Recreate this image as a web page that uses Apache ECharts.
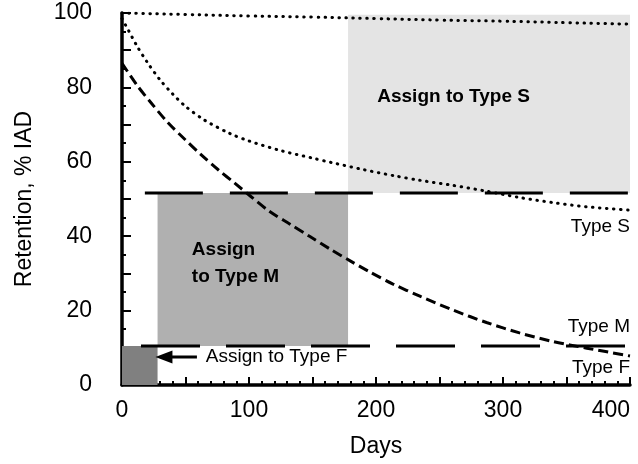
<!DOCTYPE html>
<html lang="en">
<head>
  <meta charset="UTF-8">
  <title>Retention</title>
  <script src="https://cdn.jsdelivr.net/npm/echarts@6/dist/echarts.min.js"></script>
  <style>
    * { margin: 0; padding: 0; }
    #main { width: 638px; height: 464px; background: #fff; }
  </style>
</head>
<body>
  <div id="main"></div>
  <script>
    // upper dotted curve (near 100%)
    var topDays = [0, 50, 100, 150, 200, 250, 300, 350, 400];
    var topVals = [100, 99.6, 99.2, 98.9, 98.5, 98.1, 97.8, 97.4, 97];
    // lower dotted curve -> Type S
    var sDays = [0, 5, 12, 20, 30, 40, 50, 65, 85, 100, 125, 150, 165, 190, 215, 235, 260, 287, 313, 340, 366, 400];
    var sVals = [98.5, 95.4, 91, 86.7, 82, 78.2, 74.9, 71.2, 67.6, 65.6, 63, 61, 59.8, 57.9, 56.2, 55, 53.7, 52.1, 50.4, 49, 47.9, 47];
    // dashed curve -> Type M
    var mDays = [0, 12, 23, 36, 49, 62, 76, 89, 101, 116, 132, 148, 164, 180, 195, 213, 235, 261, 287, 313, 339, 366, 400];
    var mVals = [86.5, 80.5, 75.8, 70.6, 66.2, 62, 57.8, 54.2, 50.8, 46.7, 43.3, 39.9, 36.5, 33.3, 30.4, 27.2, 23.8, 20.1, 16.8, 14, 11.7, 9.9, 7.8];

    // cut-off levels (long dashes)
    var upperLevel = 51.6, upperFrom = 18;
    var lowerLevel = 10.5, lowerFrom = 0;

    // shaded zones: [x0, y0, x1, y1]
    var zoneS = [178, 51.6, 400, 99.5];
    var zoneM = [28, 10.5, 178, 51.6];
    var zoneF = [0, 0, 28, 10.5];

    // arrow for type F note
    var arrowFrom = [59, 7.5], arrowTo = [33, 7.5];

    var xTicks = [0, 100, 200, 300, 400];
    var yTicks = [0, 20, 40, 60, 80, 100];

    var zip = function (xs, ys) { return xs.map(function (x, i) { return [x, ys[i]]; }); };
    var font = 'Liberation Sans';

    var chart = echarts.init(document.getElementById('main'));
    var note = function (x, y, text, bold, size, align) {
      return {
        value: [x, y],
        label: {
          show: true, formatter: text, position: 'inside', align: align || 'left',
          verticalAlign: 'middle', color: '#000', opacity: 1, fontFamily: font,
          fontWeight: bold ? 'bold' : 'normal', fontSize: size, lineHeight: size + 5
        }
      };
    };

    var option = {
      animation: false,
      backgroundColor: '#fff',
      grid: { left: 122, right: 8, top: 13, bottom: 79, outerBoundsMode: 'none' },
      xAxis: {
        type: 'value', min: 0, max: 400, interval: 50,
        name: 'Days', nameLocation: 'middle', nameGap: 50,
        nameTextStyle: { fontFamily: font, fontSize: 23, color: '#000' },
        axisLine: { lineStyle: { color: '#000', width: 3.5 } },
        axisTick: { inside: true, length: 8, lineStyle: { color: '#000', width: 2 } },
        minorTick: { show: true, splitNumber: 5, length: 4, lineStyle: { color: '#000', width: 2 } },
        axisLabel: {
          margin: 14, fontFamily: font, fontSize: 23, color: '#000', alignMaxLabel: 'right',
          formatter: function (v) { return xTicks.indexOf(v) >= 0 ? String(v) : ''; }
        },
        splitLine: { show: false }
      },
      yAxis: {
        type: 'value', min: 0, max: 100, interval: 10,
        name: 'Retention, % IAD', nameLocation: 'middle', nameGap: 86,
        nameTextStyle: { fontFamily: font, fontSize: 23, color: '#000' },
        axisLine: { show: true, lineStyle: { color: '#000', width: 3.5 } },
        axisTick: { inside: true, length: 9, lineStyle: { color: '#000', width: 2 } },
        minorTick: { show: true, splitNumber: 2, length: 4, lineStyle: { color: '#000', width: 2 } },
        axisLabel: {
          margin: 30, fontFamily: font, fontSize: 23, color: '#000',
          formatter: function (v) { return yTicks.indexOf(v) >= 0 ? String(v) : ''; }
        },
        splitLine: { show: false }
      },
      series: [
        {
          type: 'line', name: 'zones', data: [], silent: true, z: 1,
          markArea: {
            silent: true,
            data: [
              [{ coord: [zoneS[0], zoneS[1]], itemStyle: { color: '#e4e4e4' } }, { coord: [zoneS[2], zoneS[3]] }],
              [{ coord: [zoneM[0], zoneM[1]], itemStyle: { color: '#b0b0b0' } }, { coord: [zoneM[2], zoneM[3]] }],
              [{ coord: [zoneF[0], zoneF[1]], itemStyle: { color: '#808080' } }, { coord: [zoneF[2], zoneF[3]] }]
            ]
          }
        },
        {
          type: 'line', name: 'upper cut', data: [[upperFrom, upperLevel], [400, upperLevel]],
          showSymbol: false, z: 3,
          lineStyle: { color: '#000', width: 3, type: [58, 27] }
        },
        {
          type: 'line', name: 'lower cut', data: [[lowerFrom, lowerLevel], [400, lowerLevel]],
          showSymbol: false, z: 3,
          lineStyle: { color: '#000', width: 3, type: [59, 26], dashOffset: 66 }
        },
        {
          type: 'line', name: 'top', data: zip(topDays, topVals), smooth: true,
          showSymbol: false, z: 4,
          lineStyle: { color: '#000', width: 3, type: [0.5, 6.5], cap: 'round' }
        },
        {
          type: 'line', name: 'Type S', data: zip(sDays, sVals), smooth: 0.3,
          showSymbol: false, z: 4,
          lineStyle: { color: '#000', width: 3, type: [0.5, 6.5], cap: 'round' }
        },
        {
          type: 'line', name: 'Type M', data: zip(mDays, mVals), smooth: 0.3,
          showSymbol: false, z: 4,
          lineStyle: { color: '#000', width: 3, type: [10, 5] }
        },
        {
          type: 'line', name: 'arrow', z: 5, silent: true,
          lineStyle: { color: '#000', width: 3 },
          itemStyle: { color: '#000', opacity: 1 },
          data: [
            { value: arrowFrom, symbol: 'none' },
            { value: arrowTo, symbol: 'triangle', symbolSize: [13, 17], symbolRotate: 90 }
          ]
        },
        {
          type: 'scatter', name: 'notes', symbolSize: 0, z: 6, silent: true,
          itemStyle: { opacity: 1 },
          data: [
            note(201, 77.4, 'Assign to Type S', true, 19),
            note(55, 36.3, 'Assign', true, 19),
            note(55, 29, 'to Type M', true, 19),
            note(66, 7.5, 'Assign to Type F', false, 19),
            note(400, 42.5, 'Type S', false, 19, 'right'),
            note(400, 15.6, 'Type M', false, 19, 'right'),
            note(400, 4.6, 'Type F', false, 19, 'right')
          ]
        }
      ]
    };
    chart.setOption(option);
  </script>
</body>
</html>
